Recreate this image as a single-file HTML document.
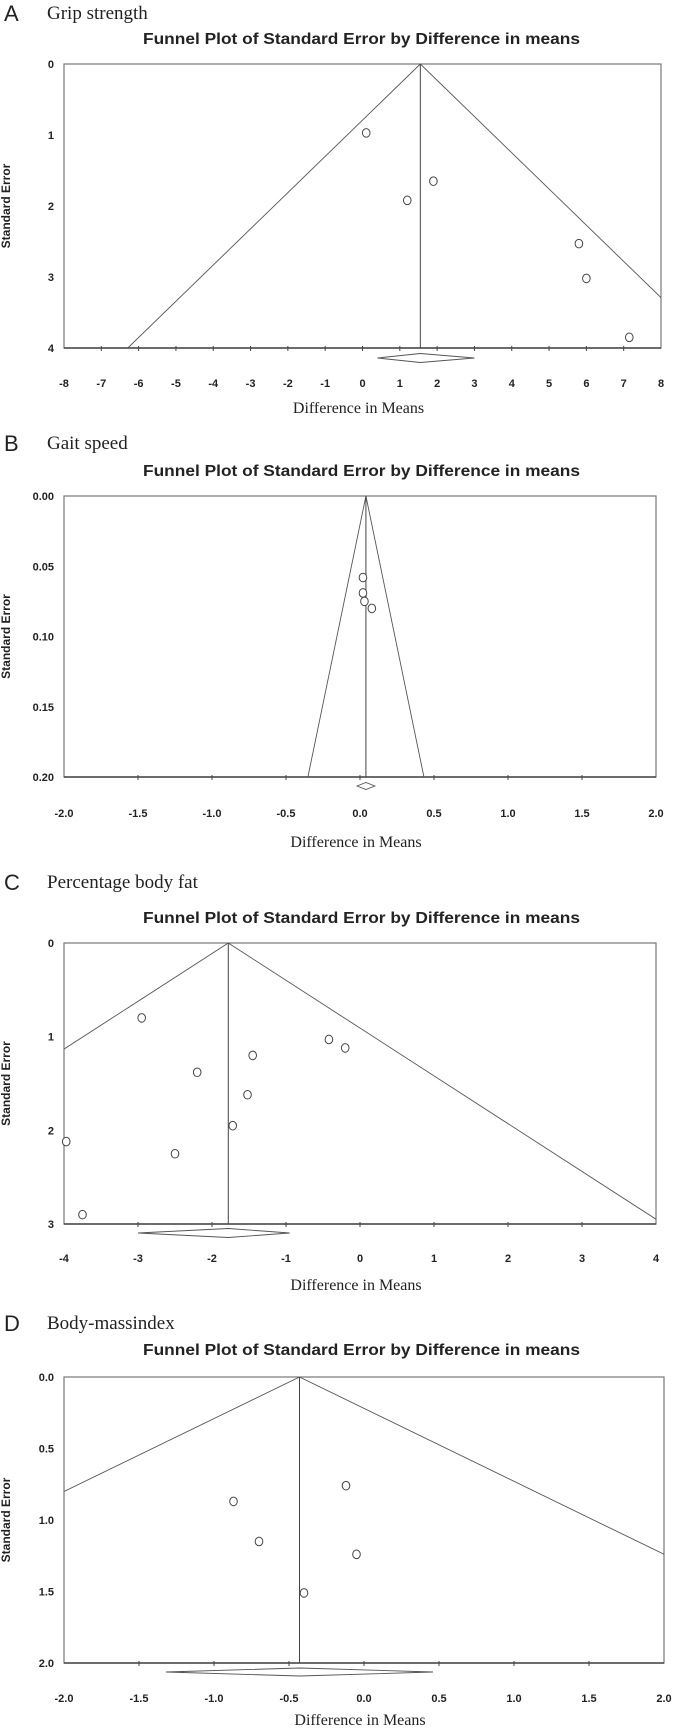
<!DOCTYPE html>
<html><head><meta charset="utf-8"><style>
html,body{margin:0;padding:0;background:#fff;}
svg{display:block;}
.t{font-family:"Liberation Sans",sans-serif;font-weight:bold;font-size:16px;fill:#222;}
.tk{font-family:"Liberation Sans",sans-serif;font-weight:bold;font-size:11px;fill:#222;}
.ax{font-family:"Liberation Serif",serif;font-size:16px;fill:#222;}
.yl{font-family:"Liberation Sans",sans-serif;font-weight:bold;font-size:12px;fill:#222;}
.pl{font-family:"Liberation Sans",sans-serif;font-size:22px;fill:#222;}
.st{font-family:"Liberation Serif",serif;font-size:19px;fill:#222;}
</style></head><body>
<svg id="root" width="673" height="1728" viewBox="0 0 673 1728" xmlns="http://www.w3.org/2000/svg"></svg>
<script>
// Panel A: Grip strength
const aXTicks=[-8,-7,-6,-5,-4,-3,-2,-1,0,1,2,3,4,5,6,7,8];
const aYTicks=[0,1,2,3,4];
const aPooled=[1.55];
const aDiamond=[0.4,3.0];
const aPtX=[0.1,1.2,1.9,5.8,6.0,7.15];
const aPtY=[0.97,1.92,1.65,2.53,3.02,3.85];
// Panel B: Gait speed
const bXTicks=[-2.0,-1.5,-1.0,-0.5,0.0,0.5,1.0,1.5,2.0];
const bYTicks=[0.00,0.05,0.10,0.15,0.20];
const bPooled=[0.04];
const bDiamond=[-0.02,0.1];
const bPtX=[0.02,0.02,0.03,0.08];
const bPtY=[0.058,0.069,0.075,0.080];
// Panel C: Percentage body fat
const cXTicks=[-4,-3,-2,-1,0,1,2,3,4];
const cYTicks=[0,1,2,3];
const cPooled=[-1.78];
const cDiamond=[-3.0,-0.95];
const cPtX=[-2.95,-3.97,-3.75,-2.2,-2.5,-1.45,-1.52,-1.72,-0.42,-0.2];
const cPtY=[0.8,2.12,2.9,1.38,2.25,1.2,1.62,1.95,1.03,1.12];
// Panel D: Body-mass index
const dXTicks=[-2.0,-1.5,-1.0,-0.5,0.0,0.5,1.0,1.5,2.0];
const dYTicks=[0.0,0.5,1.0,1.5,2.0];
const dPooled=[-0.43];
const dDiamond=[-1.32,0.46];
const dPtX=[-0.87,-0.7,-0.12,-0.05,-0.4];
const dPtY=[0.87,1.15,0.76,1.24,1.51];

const NS="http://www.w3.org/2000/svg";
const root=document.getElementById('root');
function mk(tag,attrs,parent,text){const e=document.createElementNS(NS,tag);for(const k in attrs)e.setAttribute(k,attrs[k]);if(text!==undefined)e.textContent=text;(parent||root).appendChild(e);return e;}

function panel(o){
  const g=mk('g',{});
  
  
  const L=o.L,R=o.R,T=o.T,B=o.B;
  const xmin=o.xt[0],xmax=o.xt[o.xt.length-1],ymax=o.yt[o.yt.length-1];
  const sx=v=>L+(v-xmin)/(xmax-xmin)*(R-L);
  const sy=v=>T+v/ymax*(B-T);
  let e=mk('text',{x:4,y:o.letterY+8,'class':'pl'},g,o.letter);
  
  
  e=mk('text',{x:47,y:o.letterY+6,'class':'st'},g,o.sub);
  
  
  e=mk('text',{x:143,y:o.titleY+6,'class':'t',textLength:437,lengthAdjust:'spacingAndGlyphs'},g,'Funnel Plot of Standard Error by Difference in means');
  
  
  const cid='clip'+o.id;
  const cp=mk('clipPath',{id:cid},g);mk('rect',{x:L,y:T,width:R-L,height:B-T},cp);
  e=mk('rect',{x:L,y:T,width:R-L,height:B-T,fill:'none',stroke:'#777','stroke-width':1.2},g);
  
  
  e=mk('line',{x1:L,y1:B,x2:R,y2:B,stroke:'#444','stroke-width':1.5},g);
  
  
  const p=o.pooled[0];
  const ff=mk('g',{'clip-path':'url(#'+cid+')'},g);
  
  
  const hw=1.96*ymax;
  mk('polyline',{points:`${sx(p-hw)},${sy(ymax)} ${sx(p)},${sy(0)} ${sx(p+hw)},${sy(ymax)}`,fill:'none',stroke:'#555','stroke-width':0.9},ff);
  e=mk('line',{x1:sx(p),y1:T,x2:sx(p),y2:B,stroke:'#444','stroke-width':1},g);
  
  
  o.xt.forEach((v,i)=>{
    if(i>0&&i<o.xt.length-1){const t=mk('line',{x1:sx(v),y1:B-2,x2:sx(v),y2:B+3,stroke:'#444','stroke-width':1},g);
    
    }
    const l=mk('text',{x:sx(v),y:o.tickY+4,'class':'tk','text-anchor':'middle'},g,o.fmtX(v));
    
    
  });
  o.yt.forEach(v=>{
    const l=mk('text',{x:L-10,y:sy(v)+4,'class':'tk','text-anchor':'end'},g,o.fmtY(v));
    
    
  });
  e=mk('text',{x:0,y:0,'class':'yl','text-anchor':'middle',transform:`translate(10,${(T+B)/2}) rotate(-90)`},g,'Standard Error');
  
  
  e=mk('text',{x:(L+R)/2-4,y:o.axY+5,'class':'ax','text-anchor':'middle'},g,'Difference in Means');
  
  
  const dy=o.diaY,dh=o.diaH;
  e=mk('polygon',{points:`${sx(o.dia[0])},${dy} ${sx(p)},${dy-dh} ${sx(o.dia[1])},${dy} ${sx(p)},${dy+dh}`,fill:'#fff',stroke:'#555','stroke-width':0.9},g);
  
  
  o.px.forEach((v,i)=>{
    const c=mk('ellipse',{cx:sx(v),cy:sy(o.py[i]),rx:3.8,ry:4.3,fill:'#fff',stroke:'#444','stroke-width':1},g);
    
    
  });
}
const f0=v=>String(v), f1=v=>v.toFixed(1), f2=v=>v.toFixed(2);
panel({id:'a',letter:'A',sub:'Grip strength',letterY:13,titleY:38,L:64,R:661,T:64,B:348,tickY:383,axY:408,diaY:358,diaH:4.5,
  xt:aXTicks,yt:aYTicks,pooled:aPooled,dia:aDiamond,px:aPtX,py:aPtY,fmtX:f0,fmtY:f0});
panel({id:'b',letter:'B',sub:'Gait speed',letterY:443,titleY:470,L:64,R:656,T:496,B:777,tickY:813,axY:842,diaY:786,diaH:3.5,
  xt:bXTicks,yt:bYTicks,pooled:bPooled,dia:bDiamond,px:bPtX,py:bPtY,fmtX:f1,fmtY:f2});
panel({id:'c',letter:'C',sub:'Percentage body fat',letterY:882,titleY:917,L:64,R:656,T:943,B:1224,tickY:1258,axY:1285,diaY:1233,diaH:4.5,
  xt:cXTicks,yt:cYTicks,pooled:cPooled,dia:cDiamond,px:cPtX,py:cPtY,fmtX:f0,fmtY:f0});
panel({id:'d',letter:'D',sub:'Body-massindex',letterY:1323,titleY:1349,L:64,R:664,T:1377,B:1663,tickY:1698,axY:1720,diaY:1672,diaH:4,
  xt:dXTicks,yt:dYTicks,pooled:dPooled,dia:dDiamond,px:dPtX,py:dPtY,fmtX:f1,fmtY:f1});
</script>
</body></html>
